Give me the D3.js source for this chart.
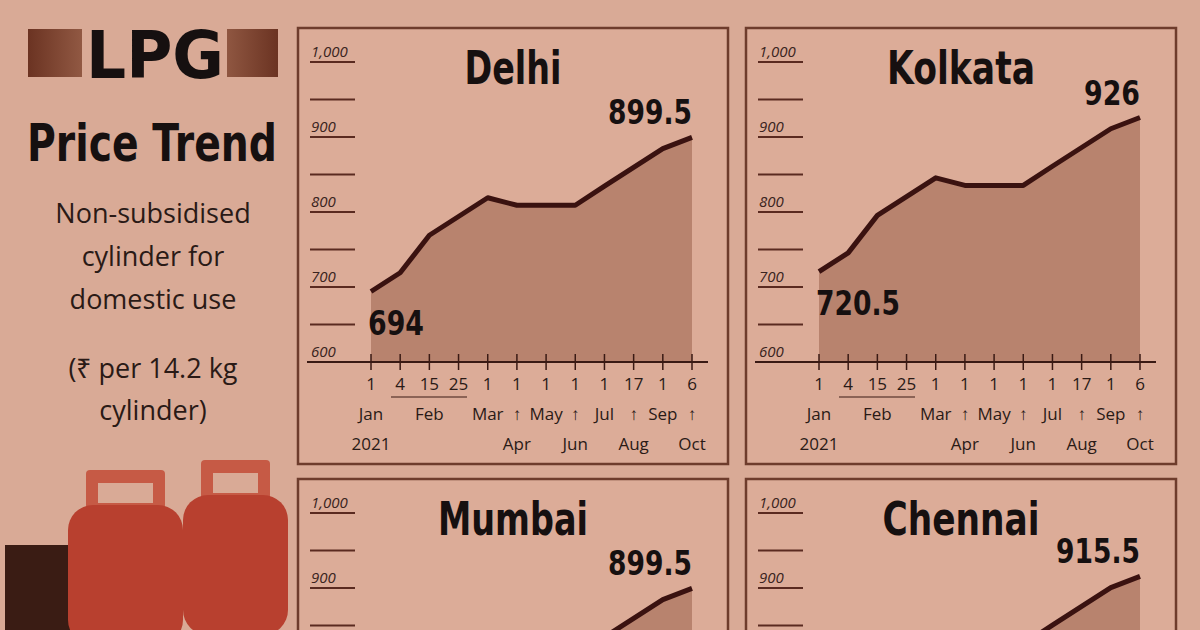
<!DOCTYPE html>
<html><head><meta charset="utf-8">
<script src="https://cdn.jsdelivr.net/npm/d3@7"></script>
<style>body{margin:0;background:#d9aa96;overflow:hidden}</style>
</head><body><svg id="c" width="1200" height="630"></svg>
<script>
const dates = ["1","4","15","25","1","1","1","1","1","17","1","6"];
const monthRow1 = ["Jan","","Feb","","Mar","↑","May","↑","Jul","↑","Sep","↑"];
const monthRow2 = ["2021","","","","","Apr","","Jun","","Aug","","Oct"];
const yTicks = [600,700,800,900,1000];
const cities = ["Delhi","Kolkata","Mumbai","Chennai"];
const delhi   = [694,719,769,794,819,809,809,809,834.5,859.5,884.5,899.5];
const kolkata = [720.5,745.5,795.5,820.5,845.5,835.5,835.5,835.5,861,886,911,926];
const mumbai  = [694,719,769,794,819,809,809,809,834.5,859.5,884.5,899.5];
const chennai = [710,735,785,810,835,825,825,825,850.5,875.5,900.5,915.5];
const series = [delhi,kolkata,mumbai,chennai];

const svg = d3.select("#c");
const cond = "'DejaVu Sans',sans-serif";
svg.append("rect").attr("width",1200).attr("height",630).attr("fill","#d9aa96");
function bold(parent,x,y,size,text,len,anchor){
  return parent.append("text").attr("x",x).attr("y",y).attr("text-anchor",anchor||"start")
    .attr("font-family",cond).attr("font-weight","bold").attr("font-size",size)
    .attr("fill","#161010").attr("textLength",len).attr("lengthAdjust","spacingAndGlyphs").text(text);
}

const g = svg.append("defs").append("linearGradient").attr("id","gr");
g.append("stop").attr("offset","0").attr("stop-color","#6b3322");
g.append("stop").attr("offset","0.5").attr("stop-color","#c38a6e");
g.append("stop").attr("offset","1").attr("stop-color","#6b3322");
svg.append("rect").attr("x",28).attr("y",29).attr("width",250).attr("height",48).attr("fill","url(#gr)");
svg.append("rect").attr("x",82).attr("y",22).attr("width",145).attr("height",60).attr("fill","#d9aa96");
bold(svg,86,78,66,"LPG",138);
bold(svg,27,161,52,"Price Trend",250);
[["Non-subsidised",223],["cylinder for",266],["domestic use",309],["(₹ per 14.2 kg",378],["cylinder)",420]]
 .forEach(([t,y])=>svg.append("text").attr("x",153).attr("y",y).attr("text-anchor","middle")
   .attr("font-family","'Open Sans',sans-serif").attr("font-size",27).attr("fill","#2a1a16").text(t));

const cyl = svg.append("g");
cyl.append("rect").attr("x",5).attr("y",545).attr("width",70).attr("height",90).attr("fill","#3a1c14");
[[68,505,115],[183,495,105]].forEach(([x,y,w])=>{
  cyl.append("rect").attr("x",x+18).attr("y",y-35).attr("width",w-36).attr("height",40).attr("fill","#c65a45").attr("rx",4);
  cyl.append("rect").attr("x",x+30).attr("y",y-22).attr("width",w-60).attr("height",20).attr("fill","#d9aa96");
  cyl.append("rect").attr("x",x).attr("y",y).attr("width",w).attr("height",140).attr("rx",25).attr("fill","#b8402f");
});

const panels = [[297,27],[745,27],[297,478],[745,478]];
const titleLen = [97,148,150,157];
const firstLen = [56,84,56,84];
const lastLen = [84,56,84,84];
const xs = d3.scalePoint().domain(d3.range(12)).range([371,692]);
panels.forEach(([px,py],i)=>{
  const dy = py-27;
  const pg = svg.append("g").attr("transform",`translate(${px-297},${dy})`);
  pg.append("rect").attr("x",298).attr("y",28).attr("width",430).attr("height",436)
    .attr("fill","#dcac98").attr("stroke","#6e3c2c").attr("stroke-width",2.5);
  const y = d3.scaleLinear().domain([600,1000]).range([362,62]);
  d3.range(600,1001,50).forEach(v=>{
    pg.append("line").attr("x1",310).attr("x2",355).attr("y1",y(v)).attr("y2",y(v))
      .attr("stroke","#5a2a20").attr("stroke-width",2);
  });
  yTicks.forEach(v=>pg.append("text").attr("x",311).attr("y",y(v)-5)
    .attr("font-family","'Open Sans',sans-serif").attr("font-style","italic").attr("font-size",15)
    .attr("fill","#3a2420").text(d3.format(",")(v)));
  const data = series[i];
  const area = d3.area().x((d,j)=>xs(j)).y0(y(600)).y1(d=>y(d));
  pg.append("path").attr("d",area(data)).attr("fill","#b8836e");
  pg.append("path").attr("d",d3.line().x((d,j)=>xs(j)).y(d=>y(d))(data))
    .attr("fill","none").attr("stroke","#3a1210").attr("stroke-width",5).attr("stroke-linejoin","round");
  pg.append("line").attr("x1",307).attr("x2",708).attr("y1",y(600)).attr("y2",y(600)).attr("stroke","#3a1a14").attr("stroke-width",2);
  d3.range(12).forEach(j=>{
    pg.append("line").attr("x1",xs(j)).attr("x2",xs(j)).attr("y1",y(600)-8).attr("y2",y(600)+8)
      .attr("stroke","#3a1a14").attr("stroke-width",1.5);
    const t=(s,yy)=>{ if(s) pg.append("text").attr("x",xs(j)).attr("y",yy).attr("text-anchor","middle")
      .attr("font-family","'Open Sans',sans-serif").attr("font-size",17).attr("fill","#2a1a16").text(s);};
    t(dates[j],390); t(monthRow1[j],420); t(monthRow2[j],450);
  });
  pg.append("line").attr("x1",391).attr("x2",467).attr("y1",397).attr("y2",397).attr("stroke","#3a1a14").attr("stroke-width",1);
  bold(pg,513,84,46,cities[i],titleLen[i],"middle");
  bold(pg,368,y(data[0])+43,34,String(data[0]),firstLen[i]);
  bold(pg,692,y(data[11])-13,34,String(data[11]),lastLen[i],"end");
});
</script></body></html>
